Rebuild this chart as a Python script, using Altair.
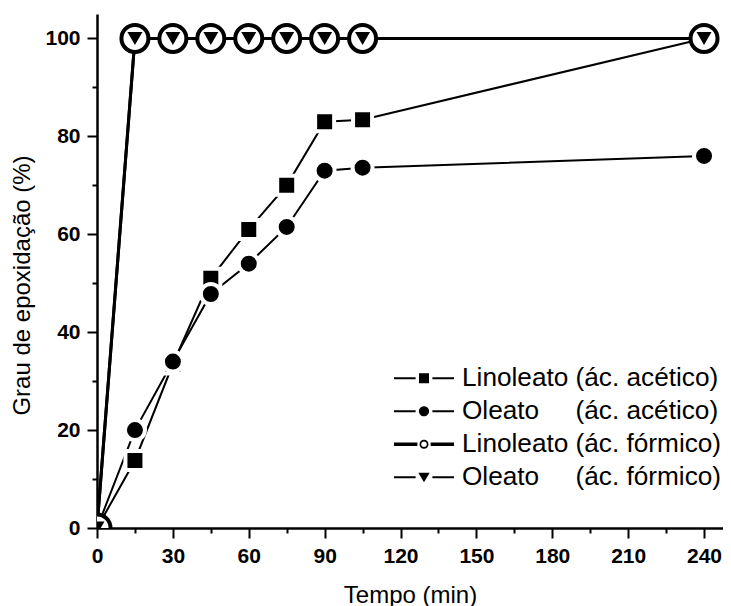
import altair as alt
import pandas as pd

# ---- data ----
times = [0, 15, 30, 45, 60, 75, 90, 105, 240]
lin_acet = [0, 13.8, 33.5, 51.0, 61.0, 70.0, 83.0, 83.4, 100.0]
ole_acet = [0, 20.0, 34.0, 47.8, 54.0, 61.5, 73.0, 73.6, 76.0]
lin_form = [0, 100, 100, 100, 100, 100, 100, 100, 100]
ole_form = [0, 100, 100, 100, 100, 100, 100, 100, 100]

NB = "\u00a0"
series_names = [
    "Linoleato (ác. acético)",
    "Oleato" + NB * 5 + "(ác. acético)",
    "Linoleato (ác. fórmico)",
    "Oleato" + NB * 5 + "(ác. fórmico)",
]
series_values = [lin_acet, ole_acet, lin_form, ole_form]

x_ticks = [0, 15, 30, 45, 60, 75, 90, 105, 120, 135, 150, 165, 180, 195, 210, 225, 240]
y_ticks = [0, 10, 20, 30, 40, 50, 60, 70, 80, 90, 100]

rows = []
for name, vals in zip(series_names, series_values):
    for t, v in zip(times, vals):
        rows.append({"t": t, "value": v, "series": name})
df = pd.DataFrame(rows)

# ---- legend symbols: line - marker - line ----
def seg(x0, x1, hw):
    return f"M{x0},{-hw}H{x1}V{hw}H{x0}Z"

def lines(hw, gap):
    return seg(-1, -gap, hw) + seg(gap, 1, hw)

sq = 0.167
p_square = lines(0.036, 0.28) + f"M{-sq},{-sq}H{sq}V{sq}H{-sq}Z"
r = 0.17
p_circle = lines(0.036, 0.28) + f"M{r},0A{r},{r} 0 1,1 {-r},0A{r},{r} 0 1,1 {r},0Z"
ro, ri = 0.15, 0.095
p_ring = (lines(0.055, 0.22)
          + f"M{ro},0A{ro},{ro} 0 1,1 {-ro},0A{ro},{ro} 0 1,1 {ro},0Z"
          + f"M{ri},0A{ri},{ri} 0 1,0 {-ri},0A{ri},{ri} 0 1,0 {ri},0Z")
p_tri = lines(0.036, 0.28) + "M-0.19,-0.15L0.19,-0.15L0,0.17Z"
legend_paths = [p_square, p_circle, p_ring, p_tri]

FONT = "Liberation Sans"

x_enc = alt.X(
    "t:Q",
    scale=alt.Scale(domain=[0, 247.5], nice=False, zero=False),
    axis=alt.Axis(
        values=x_ticks,
        labelExpr="datum.value % 30 == 0 ? datum.label : ''",
        tickSize={"condition": {"test": "datum.value % 30 != 0", "value": 5}, "value": 10},
        labelPadding=7,
        labelOverlap=False,
        labelFlush=False,
        title="Tempo (min)",
        titleBaseline="alphabetic",
        titleY=74,
        grid=False,
    ),
)
y_enc = alt.Y(
    "value:Q",
    scale=alt.Scale(domain=[0, 105], nice=False),
    axis=alt.Axis(
        values=y_ticks,
        labelExpr="datum.value % 20 == 0 ? datum.label : ''",
        tickSize={"condition": {"test": "datum.value % 20 != 0", "value": 5}, "value": 10},
        labelPadding=7,
        labelOverlap=False,
        labelFlush=False,
        title="Grau de epoxidação (%)",
        titleX=-75,
        titleY=271,
        titleAlign="center",
        titleBaseline="middle",
        grid=False,
    ),
)

base = alt.Chart(df).encode(x=x_enc, y=y_enc)

def only(names):
    return alt.FieldOneOfPredicate(field="series", oneOf=names)

line_acet = base.mark_line(color="black", strokeWidth=2, clip=True).encode(
    detail="series:N"
).transform_filter(only(series_names[:2]))

line_form = base.mark_line(color="black", strokeWidth=3, clip=True).encode(
    detail="series:N"
).transform_filter(only(series_names[2:]))

squares = base.mark_point(
    shape="square", size=361, filled=True, fill="black", stroke="white",
    strokeWidth=4, opacity=1, clip=True
).transform_filter(only([series_names[0]]))

circles = base.mark_point(
    shape="circle", size=400, filled=True, fill="black", stroke="white",
    strokeWidth=4, opacity=1, clip=True
).transform_filter(only([series_names[1]]))

rings = base.mark_point(
    shape="circle", size=729, filled=True, fill="white", stroke="black",
    strokeWidth=4, opacity=1, clip=True
).transform_filter(only([series_names[2]]))

triangles = base.mark_point(
    shape="triangle-down", size=225, filled=True, fill="black",
    strokeWidth=0, opacity=1, clip=True
).transform_filter(only([series_names[3]]))

legend_layer = base.mark_point(filled=True, color="black").encode(
    shape=alt.Shape(
        "series:N",
        scale=alt.Scale(domain=series_names, range=legend_paths),
        legend=alt.Legend(
            title=None,
            orient="none",
            legendX=297,
            legendY=348,
            symbolSize=3600,
            symbolFillColor="black",
            symbolStrokeWidth=0,
            symbolOpacity=1,
            labelFont=FONT,
            labelFontSize=26.2,
            labelColor="black",
            labelOffset=8,
            labelLimit=600,
            clipHeight=32.5,
            rowPadding=0,
            padding=0,
        ),
    )
).transform_filter("datum.t < 0")

chart = alt.layer(
    line_acet, line_form, squares, circles, rings, triangles, legend_layer
).properties(
    width=626,
    height=514,
    autosize=alt.AutoSizeParams(type="none"),
    padding={"left": 89, "top": 6, "right": 0, "bottom": 82},
).configure_view(
    strokeWidth=0
).configure_axis(
    domainColor="black",
    domainWidth=2.5,
    tickColor="black",
    tickWidth=2,
    labelFont=FONT,
    labelFontSize=21,
    labelFontWeight="bold",
    labelColor="black",
    titleFont=FONT,
    titleFontSize=24,
    titleFontWeight="normal",
    titleColor="black",
)

chart.save("out.html", embed_options={"renderer": "svg", "actions": False})
